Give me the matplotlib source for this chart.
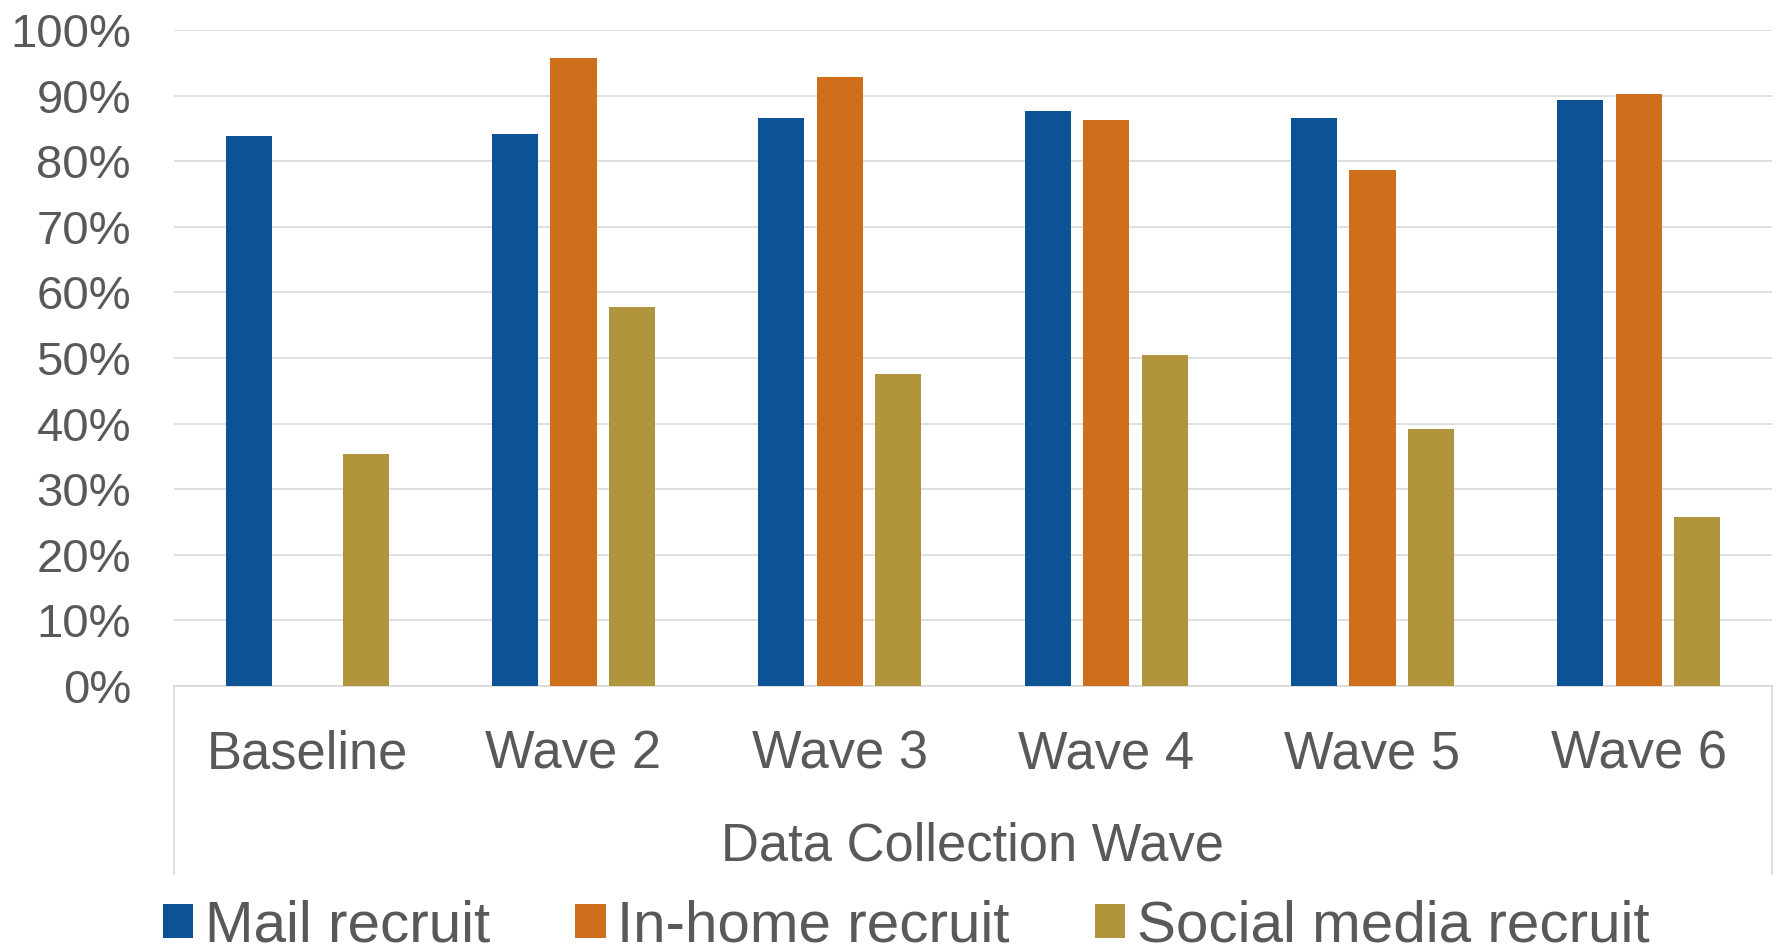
import numpy as np
import matplotlib
matplotlib.use("Agg")
import matplotlib.pyplot as plt
from matplotlib.ticker import PercentFormatter

plt.rcParams['font.family'] = ['Liberation Sans', 'DejaVu Sans']

# Response rates by recruitment mode and collection wave (percent)
waves = ['Baseline', 'Wave 2', 'Wave 3', 'Wave 4', 'Wave 5', 'Wave 6']
mail = [83.8, 84.2, 86.6, 87.6, 86.6, 89.3]
in_home = [np.nan, 95.8, 92.9, 86.2, 78.7, 90.3]
social = [35.3, 57.7, 47.6, 50.4, 39.1, 25.8]
series_names = ['Mail recruit', 'In-home recruit', 'Social media recruit']
colors = ['#0B5394', '#CF6E1B', '#B0953D']

text_gray = '#595959'
grid_gray = '#D9D9D9'

fig = plt.figure(figsize=(17.77, 9.51), dpi=100)
ax = fig.add_axes([0.0979, 0.2787, 0.8993, 0.6898])

x = np.arange(len(waves))
width = 0.173
offset = 0.22
for i, (vals, name, c) in enumerate(zip([mail, in_home, social], series_names, colors)):
    ax.bar(x + (i - 1) * offset, vals, width, color=c, label=name, zorder=3)

ax.set_xlim(-0.5, len(waves) - 0.5)
ax.set_ylim(0, 100)
ax.set_yticks(np.arange(0, 101, 10))
ax.yaxis.set_major_formatter(PercentFormatter(decimals=0))
ax.grid(axis='y', color=grid_gray, linewidth=1.2, zorder=0)
ax.set_axisbelow(True)

for side in ['top', 'right', 'left']:
    ax.spines[side].set_visible(False)
ax.spines['bottom'].set_color(grid_gray)
ax.spines['bottom'].set_linewidth(1.2)

ax.tick_params(axis='y', length=0, pad=31, labelsize=34, labelcolor=text_gray)
ax.tick_params(axis='x', length=0, pad=31, labelsize=37.8, labelcolor=text_gray)
ax.set_xticks(x)
ax.set_xticklabels(waves)

# category-axis box edges below the plot
for xa in (0, 1):
    ax.plot([xa, xa], [0, -0.2866], transform=ax.transAxes, color=grid_gray,
            linewidth=1.2, clip_on=False)

ax.set_xlabel('Data Collection Wave', fontsize=37.8, color=text_gray)
ax.xaxis.set_label_coords(0.5, -0.2073)
ax.xaxis.label.set_va('top')

fig.legend(loc='center left', bbox_to_anchor=(163 / 1777, 0.026), ncol=3,
           frameon=False, fontsize=42, handlelength=0.52, handleheight=0.52,
           handletextpad=0.2, columnspacing=1.46, borderpad=0, borderaxespad=0,
           labelcolor=text_gray)

fig.savefig('out.png', dpi=100)
